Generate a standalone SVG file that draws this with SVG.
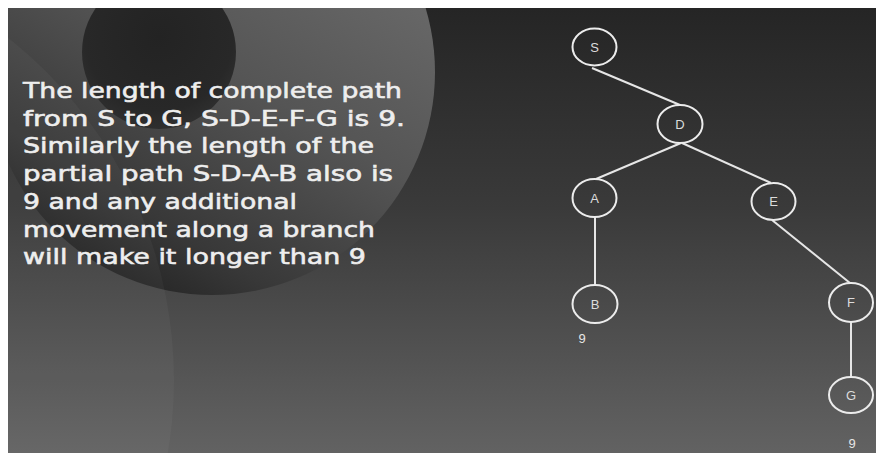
<svg xmlns="http://www.w3.org/2000/svg" width="876" height="453" viewBox="0 0 876 453">
  <defs>
    <linearGradient id="bg" x1="0" y1="0" x2="0" y2="1">
      <stop offset="0" stop-color="#252525"/>
      <stop offset="0.45" stop-color="#3a3a3a"/>
      <stop offset="1" stop-color="#626262"/>
    </linearGradient>
    <linearGradient id="big" x1="0.9" y1="0.1" x2="0.35" y2="1">
      <stop offset="0" stop-color="#707070"/>
      <stop offset="0.5" stop-color="#555555"/>
      <stop offset="0.85" stop-color="#383838"/>
      <stop offset="1" stop-color="#262626"/>
    </linearGradient>
    <radialGradient id="inner" cx="0.5" cy="0.4" r="0.6">
      <stop offset="0" stop-color="#232323"/>
      <stop offset="0.8" stop-color="#282828"/>
      <stop offset="1" stop-color="#2c2c2c" stop-opacity="0.9"/>
    </radialGradient>
    <clipPath id="frame">
      <rect x="8" y="8" width="868" height="445"/>
    </clipPath>
  </defs>
  <style>
    .body { font-family: "DejaVu Sans", Verdana, sans-serif; font-size: 22px; fill: #eeeeee; stroke: #eeeeee; stroke-width: 0.6; }
    .edge { stroke: #e6e6e6; stroke-width: 2; fill: none; }
    .node ellipse { fill: none; stroke: #ececec; stroke-width: 2; }
    .node text { font-family: "Liberation Sans", Arial, sans-serif; font-size: 13px; fill: #dcdcdc; text-anchor: middle; }
    .cost { font-family: "Liberation Sans", Arial, sans-serif; font-size: 13px; fill: #e6e6e6; text-anchor: middle; }
  </style>

  <rect x="0" y="0" width="876" height="453" fill="#ffffff"/>
  <g clip-path="url(#frame)">
    <rect x="8" y="8" width="868" height="445" fill="url(#bg)"/>
    <circle cx="212" cy="72" r="223" fill="url(#big)"/>
    <circle cx="159" cy="52" r="77" fill="url(#inner)"/>
    <circle cx="-262" cy="380" r="436" fill="#ffffff" fill-opacity="0.035"/>
  </g>

  <g id="caption">
    <text class="body" x="23" y="98" textLength="379" lengthAdjust="spacingAndGlyphs">The length of complete path</text>
    <text class="body" x="23" y="125.7" textLength="382" lengthAdjust="spacingAndGlyphs">from S to G, S-D-E-F-G is 9.</text>
    <text class="body" x="23" y="153.4" textLength="351" lengthAdjust="spacingAndGlyphs">Similarly the length of the</text>
    <text class="body" x="23" y="181.1" textLength="370" lengthAdjust="spacingAndGlyphs">partial path S-D-A-B also is</text>
    <text class="body" x="23" y="208.8" textLength="274" lengthAdjust="spacingAndGlyphs">9 and any additional</text>
    <text class="body" x="23" y="236.5" textLength="352" lengthAdjust="spacingAndGlyphs">movement along a branch</text>
    <text class="body" x="23" y="264.2" textLength="343" lengthAdjust="spacingAndGlyphs">will make it longer than 9</text>
  </g>

  <g id="connectors">
    <line class="edge" x1="592" y1="68" x2="680" y2="105"/>
    <line class="edge" x1="681" y1="143" x2="596" y2="179"/>
    <line class="edge" x1="682" y1="143" x2="771" y2="183"/>
    <line class="edge" x1="595" y1="217" x2="595" y2="285"/>
    <line class="edge" x1="772" y1="220" x2="850" y2="283"/>
    <line class="edge" x1="851" y1="322" x2="851" y2="377"/>
  </g>

  <g id="node-S" class="node"><ellipse cx="594.5" cy="47" rx="22" ry="18.5"/><text x="594.5" y="51.5">S</text></g>
  <g id="node-D" class="node"><ellipse cx="680" cy="124" rx="22.5" ry="19"/><text x="680" y="128.5">D</text></g>
  <g id="node-A" class="node"><ellipse cx="594.5" cy="198" rx="22" ry="19"/><text x="594.5" y="202.5">A</text></g>
  <g id="node-E" class="node"><ellipse cx="773.5" cy="201.5" rx="22" ry="18.5"/><text x="773.5" y="206">E</text></g>
  <g id="node-B" class="node"><ellipse cx="595" cy="304" rx="22.5" ry="19"/><text x="595" y="308.5">B</text></g>
  <g id="node-F" class="node"><ellipse cx="851" cy="302.5" rx="22" ry="19.5"/><text x="851" y="307">F</text></g>
  <g id="node-G" class="node"><ellipse cx="851" cy="395" rx="22" ry="18"/><text x="851" y="399.5">G</text></g>

  <text class="cost" x="582" y="343">9</text>
  <text class="cost" x="852" y="448">9</text>
</svg>
